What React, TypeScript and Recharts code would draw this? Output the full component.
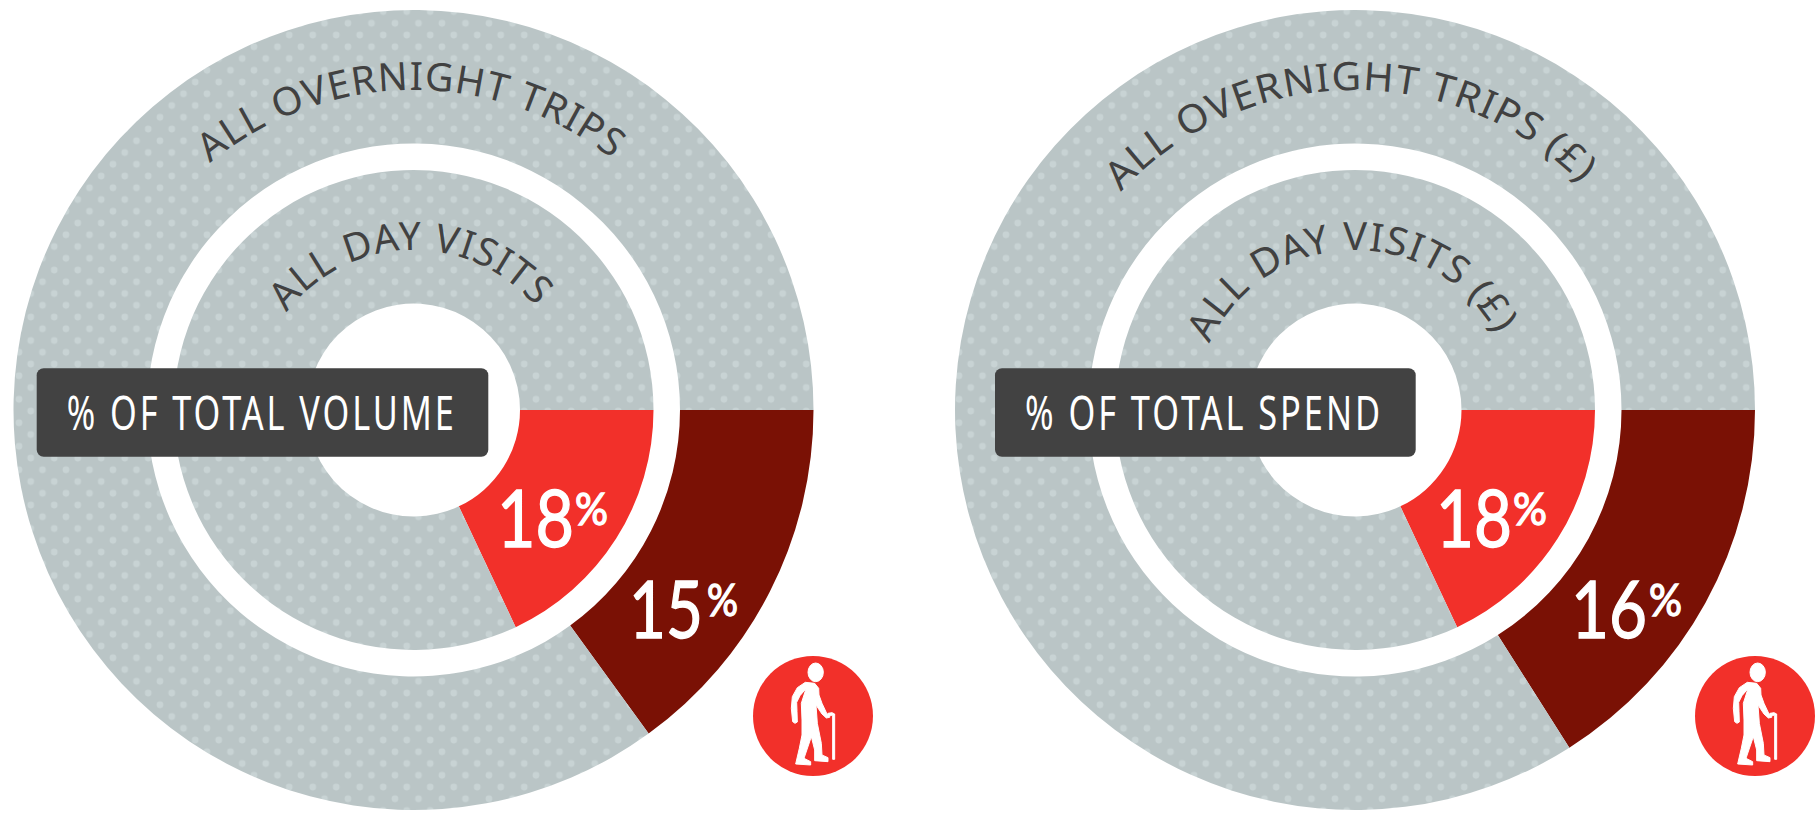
import { Cell, Pie, PieChart } from "recharts";

const WIDTH = 1820;
const HEIGHT = 823;

const dayVisitShares = [18, 18];
const overnightShares = [15, 16];
const metricLabels = ["% OF TOTAL VOLUME", "% OF TOTAL SPEND"];
const overnightLabels = ["ALL OVERNIGHT TRIPS", "ALL OVERNIGHT TRIPS (£)"];
const dayLabels = ["ALL DAY VISITS", "ALL DAY VISITS (£)"];

const RED = "#f2302a";
const DARK_RED = "#7a1105";
const GREY = "url(#dots)";
const INK = "#414141";

// layout of each panel
const panels = [
  {
    cx: 413.5,
    outerArc: [-39.5, 38.5],
    innerArc: [-52.5, 50],
    box: [36.7, 451.6],
    boxText: [66.7, 390],
    day: [497, 77, 575, 33],
    night: [629, 74, 707, 31],
    iconX: 813,
  },
  {
    cx: 1355,
    outerArc: [-47, 45],
    innerArc: [-65.5, 62],
    box: [995, 420.7],
    boxText: [1025, 358],
    day: [1436, 76, 1513, 34],
    night: [1571, 76, 1649, 33],
    iconX: 1755,
  },
];
const CY = 410;

const arcPath = (cx: number, r: number, a0: number, a1: number) => {
  const pt = (a: number) => {
    const t = (a * Math.PI) / 180;
    return `${cx + r * Math.sin(t)} ${CY - r * Math.cos(t)}`;
  };
  return `M ${pt(a0)} A ${r} ${r} 0 0 1 ${pt(a1)}`;
};

const sharesOf = (share: number) => [
  { name: "older", value: share },
  { name: "rest", value: 100 - share },
];

const CurvedLabel = ({ id, text, cx, r, arc }: any) => {
  const len = (((arc[1] - arc[0]) * Math.PI) / 180) * r;
  return (
    <g>
      <path id={id} d={arcPath(cx, r, arc[0], arc[1])} fill="none" />
      <text fontFamily="'Noto Sans'" fontSize={39} letterSpacing={1} fill={INK}>
        <textPath href={`#${id}`} textLength={len} lengthAdjust="spacingAndGlyphs">
          {text}
        </textPath>
      </text>
    </g>
  );
};

const Percent = ({ value, place, base }: any) => (
  <g fill="#fff" stroke="#fff" strokeWidth={1.4} fontFamily="Lato">
    <text x={place[0]} y={base} fontSize={80} textLength={place[1]} lengthAdjust="spacingAndGlyphs">
      {value}
    </text>
    <text x={place[2]} y={base - 22} fontSize={45} textLength={place[3]} lengthAdjust="spacingAndGlyphs">
      %
    </text>
  </g>
);

const WalkerIcon = ({ x }: any) => (
  <g transform={`translate(${x} 716) scale(0.3333) translate(-285 -228)`}>
    <circle cx={285} cy={228} r={180} fill={RED} />
    <g fill="#fff" stroke="#fff" strokeWidth={3} strokeLinejoin="round">
      <ellipse cx={293} cy={97} rx={23} ry={28} />
      <path d="M262 127 L238 143 L223 170 L220 205 L224 245 L231 250 L238 246 L237 215 L236 187 L246 167 L264 146 L250 190 L252 240 L252 285 L244 325 L233 372 L278 375 L278 365 L258 355 L280 290 L290 330 L290 362 L330 365 L330 353 L312 345 L310 310 L298 250 L294 195 L312 222 L325 234 L335 232 L336 224 L327 222 L312 190 L303 165 L302 145 L290 130 Z" />
      <path d="M330 220 L342 218 L350 222 L350 358 L344 358 L344 226 L331 226 Z" />
    </g>
  </g>
);

export default function App() {
  return (
    <div style={{ position: "absolute", left: 0, top: 0, width: WIDTH, height: HEIGHT }}>
      <PieChart width={WIDTH} height={HEIGHT} margin={{ top: 0, right: 0, bottom: 0, left: 0 }}>
        <defs>
          <pattern
            id="dots"
            width={23.5}
            height={23.5}
            patternUnits="userSpaceOnUse"
            patternTransform="translate(13.1 17.4)"
          >
            <rect width={23.5} height={23.5} fill="#bac5c6" />
            <circle cx={5.875} cy={5.875} r={3.4} fill="#c8d3d4" />
            <circle cx={17.625} cy={17.625} r={3.4} fill="#c8d3d4" />
          </pattern>
        </defs>
        {panels.map((p, i) => (
          <Pie
            key={`night-${i}`}
            data={sharesOf(overnightShares[i])}
            dataKey="value"
            cx={p.cx}
            cy={CY}
            innerRadius={266.5}
            outerRadius={400}
            startAngle={0}
            endAngle={-360}
            stroke="none"
            isAnimationActive={false}
          >
            <Cell fill={DARK_RED} />
            <Cell fill={GREY} />
          </Pie>
        ))}
        {panels.map((p, i) => (
          <Pie
            key={`day-${i}`}
            data={sharesOf(dayVisitShares[i])}
            dataKey="value"
            cx={p.cx}
            cy={CY}
            innerRadius={106.5}
            outerRadius={240}
            startAngle={0}
            endAngle={-360}
            stroke="none"
            isAnimationActive={false}
          >
            <Cell fill={RED} />
            <Cell fill={GREY} />
          </Pie>
        ))}
      </PieChart>
      <svg width={WIDTH} height={HEIGHT} style={{ position: "absolute", left: 0, top: 0, display: "block" }}>
        {panels.map((p, i) => (
          <g key={i}>
            <CurvedLabel id={`night-arc-${i}`} text={overnightLabels[i]} cx={p.cx} r={320} arc={p.outerArc} />
            <CurvedLabel id={`day-arc-${i}`} text={dayLabels[i]} cx={p.cx} r={160} arc={p.innerArc} />
            <rect x={p.box[0]} y={368.3} width={p.box[1]} height={88.4} rx={7} fill="#424242" />
            <text
              x={p.boxText[0]}
              y={430}
              fontFamily="'Noto Sans'"
              fontSize={47}
              letterSpacing={4}
              fill="#fff"
              textLength={p.boxText[1]}
              lengthAdjust="spacingAndGlyphs"
            >
              {metricLabels[i]}
            </text>
            <Percent value={dayVisitShares[i]} place={p.day} base={547.3} />
            <Percent value={overnightShares[i]} place={p.night} base={638} />
            <WalkerIcon x={p.iconX} />
          </g>
        ))}
      </svg>
    </div>
  );
}
